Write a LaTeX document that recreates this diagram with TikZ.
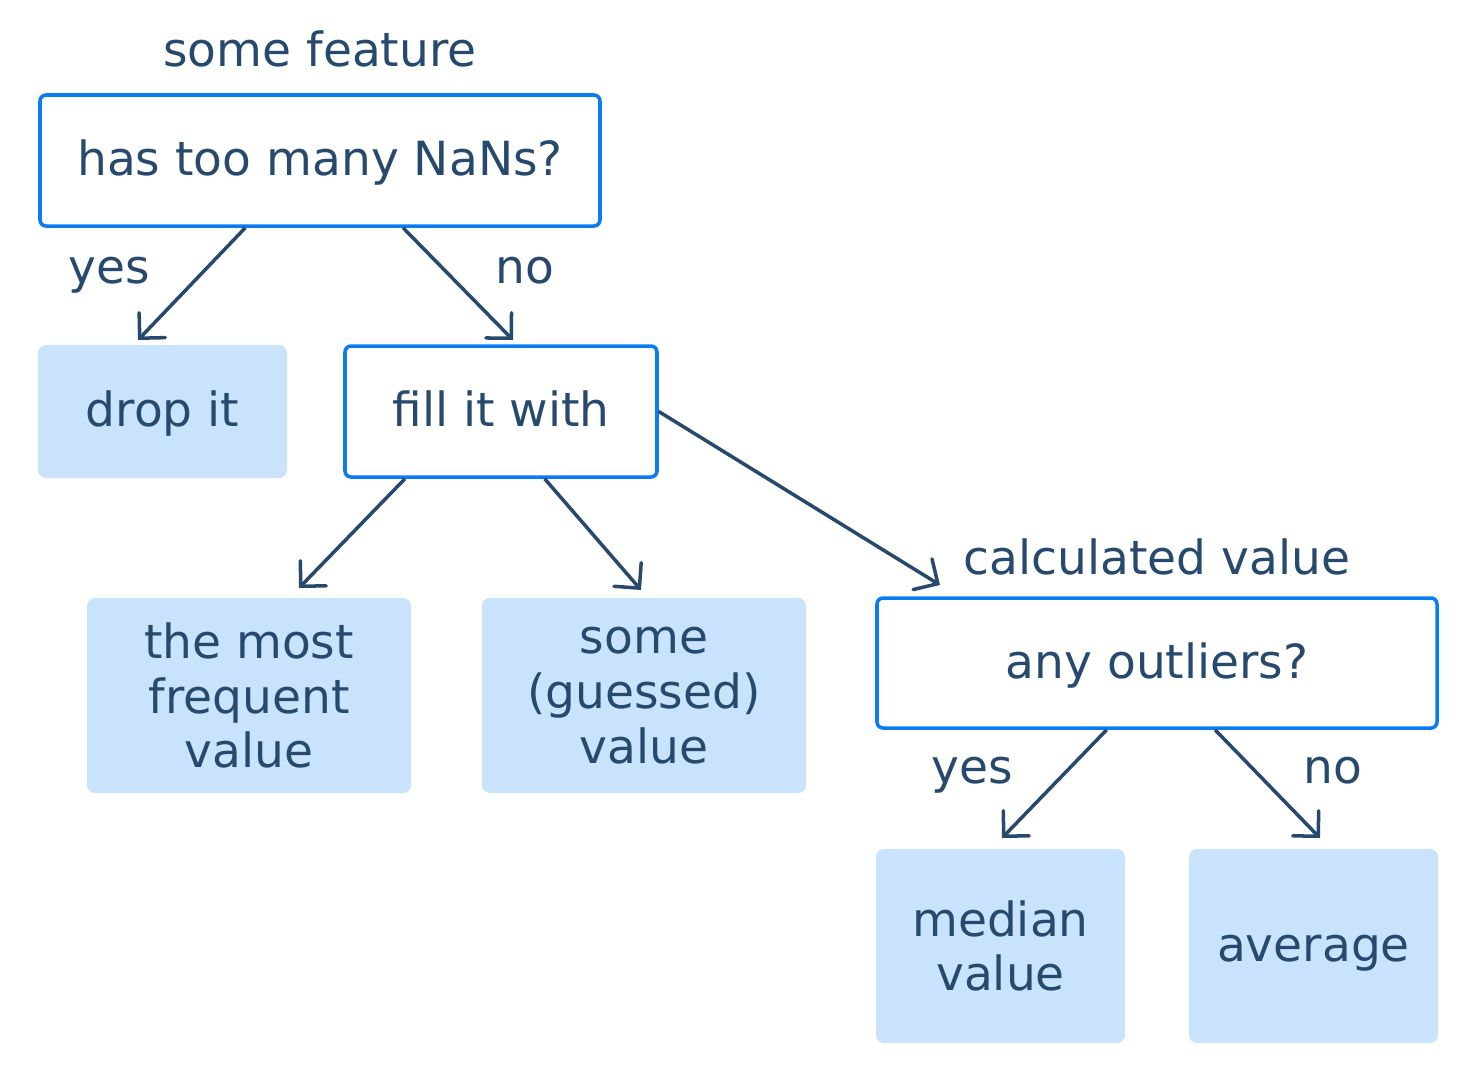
\documentclass[tikz,border=0pt]{standalone}
\usepackage{fontspec}
\setmainfont{DejaVu Sans}
\usetikzlibrary{arrows.meta}
\definecolor{ink}{HTML}{27496D}
\definecolor{boxblue}{HTML}{0A7CF2}
\definecolor{fillblue}{HTML}{C9E3FC}
\begin{document}
\begin{tikzpicture}[font=\fontsize{13.4}{15.6}\selectfont,text=ink,
	question/.style={draw=boxblue,line width=1pt,rounded corners=0.6mm,fill=white,minimum width=5.6cm,minimum height=1.31cm,inner sep=0pt,one line},
	answer/.style={fill=fillblue,rounded corners=0.8mm,align=center,minimum width=3.24cm,minimum height=1.95cm,inner sep=0pt},
	one line/.style={text height=1em,text depth=0.12em},
	label node/.style={anchor=base,inner sep=0pt}]
		\useasboundingbox (0,0) rectangle (14.74,-10.76);
		\node[question] (1) at (3.20,-1.605) {has too many NaNs?};
		\node[answer,one line,minimum width=2.49cm,minimum height=1.33cm] (2) at (1.625,-4.115) {drop it};
		\node[question,minimum width=3.12cm] (3) at (5.01,-4.115) {fill it with};
		\node[answer] (4) at (2.49,-6.955) {the most\\frequent\\value};
		\node[answer] (5) at (6.44,-6.955) {some\\(guessed)\\value};
		\node[question,minimum height=1.30cm] (6) at (11.57,-6.63) {any outliers?};
		\node[answer,minimum width=2.49cm,minimum height=1.94cm] (7) at (10.005,-9.46) {median\\value};
		\node[answer,one line,minimum width=2.49cm,minimum height=1.94cm] (8) at (13.135,-9.46) {average};
		
		\node[label node] (f1) at (3.20,-0.66) {some feature};
		\node[label node] (f2) at (11.57,-5.74) {calculated value};
		\node[label node] (y1) at (1.09,-2.83) {yes};
		\node[label node] (n1) at (5.25,-2.83) {no};
		\node[label node] (y2) at (9.72,-7.83) {yes};
		\node[label node] (n2) at (13.33,-7.83) {no};
		
		\coordinate (t2) at (1.38,-3.40);
		\coordinate (t3) at (5.13,-3.40);
		\coordinate (t4) at (2.99,-5.88);
		\coordinate (t5) at (6.41,-5.90);
		\coordinate (t6) at (9.40,-5.85);
		\coordinate (t7) at (10.02,-8.38);
		\coordinate (t8) at (13.20,-8.38);
		
		\path[color=ink,line width=1pt,-{Straight Barb[length=1.8mm,width=3.6mm,line cap=round]}]
		(1.-138) edge (t2)
		(1.-39) edge (t3)
		(3.-145) edge (t4)
		(3.-57) edge (t5)
		(3.east) edge (t6)
		(6.-127) edge (t7)
		(6.-49) edge (t8)
		;
		\end{tikzpicture}
\end{document}
